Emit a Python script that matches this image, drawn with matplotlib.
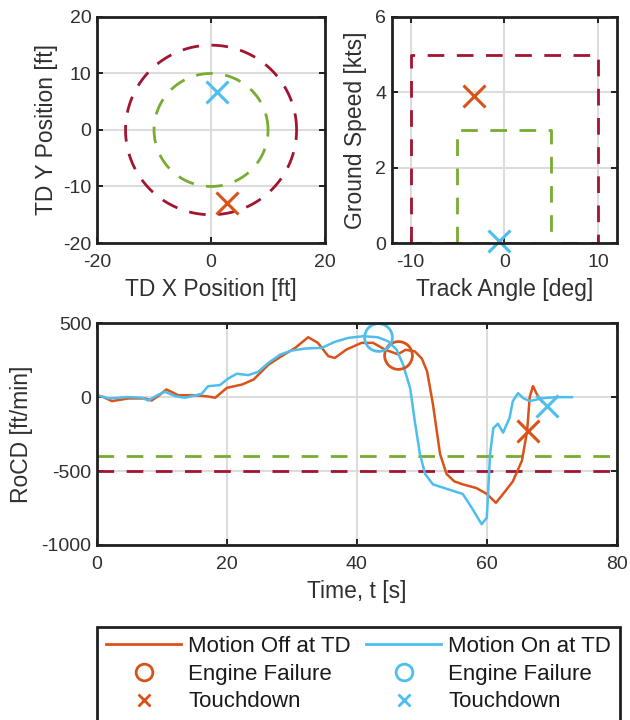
import numpy as np
import matplotlib
matplotlib.use("Agg")
from matplotlib import pyplot as plt
from matplotlib.lines import Line2D

plt.rcParams['font.family'] = ['Liberation Sans', 'DejaVu Sans']
plt.rcParams['font.size'] = 16.5
plt.rcParams['axes.unicode_minus'] = False

# colours (MATLAB defaults)
ORANGE = '#D95319'
BLUE = '#4DBEEE'
GREEN = '#77AC30'
DRED = '#A2142F'

# RoCD time histories
t_off = [0, 1, 2.3, 4.8, 7.4, 8.4, 9.5, 10.7, 12.5, 15, 17, 18.2, 20, 22.3, 24.1, 26.4,
         28.4, 30.5, 32.5, 34, 35.6, 36.6, 38.4, 40.7, 42.5, 44.3, 46.3, 47.5, 48.9, 50,
         50.8, 51.7, 52.8, 53.8, 55, 56.3, 58.4, 60, 61.4, 62.5, 64, 65.4, 66.2, 66.6,
         67.1, 67.7, 68.5]
rocd_off = [13, 0, -27, -9, -9, -23, 10, 52, 13, 13, 5, -4, 63, 85, 119, 220,
            277, 333, 405, 367, 277, 265, 322, 367, 367, 322, 290, 320, 310, 260,
            175, -47, -385, -520, -570, -590, -615, -655, -715, -655, -570, -430, -230, 0,
            75, 20, -30]

t_on = [0, 1.8, 4.8, 6.9, 7.9, 9.5, 10.5, 12, 13.5, 16.1, 17.1, 18.9, 20.2, 21.5, 23.3,
        24.8, 26.4, 28.2, 30, 32.1, 34.6, 36.6, 38.7, 41, 43.2, 44.8, 46.1, 47.1, 48.2,
        48.9, 49.7, 50.5, 51.7, 53.8, 56.3, 57.7, 59.2, 60, 60.5, 61, 61.7, 62.5, 63.5,
        64, 64.8, 65.6, 66.6, 68.6, 70.8, 73.1]
rocd_on = [13, -9, 0, -4, -23, 18, 36, 7, -4, 22, 74, 81, 126, 158, 149,
           171, 232, 288, 315, 329, 333, 374, 401, 412, 405, 378, 322, 221, 60,
           -160, -385, -520, -590, -620, -655, -750, -860, -815, -385, -210, -180, -240, -140,
           -27, 27, -7, -27, -7, 0, 0]

# events
ef_off = (46.3, 285)
ef_on = (43.2, 405)
td_off = (66.3, -230)
td_on = (69.2, -60)

# touchdown position [ft]
tdpos_off = (2.8, -13)
tdpos_on = (1.0, 6.8)

# touchdown track angle [deg], ground speed [kts]
tdgs_off = (-3.2, 3.9)
tdgs_on = (-0.6, 0.05)

# limits
pos_radius_des = 10
pos_radius_adq = 15
track_des, gs_des = 5, 3
track_adq, gs_adq = 10, 5
rocd_des = -400
rocd_adq = -500

DASH = (6, 4.5)
TXT = '#303030'


def style_axes(ax):
    ax.grid(True, color='#dcdcdc', linewidth=1.5)
    ax.set_axisbelow(True)
    for s in ax.spines.values():
        s.set_linewidth(2)
        s.set_color('#202020')
    ax.tick_params(direction='in', top=True, right=True, length=4, width=1.2,
                   labelsize=14, labelcolor=TXT)
    ax.tick_params(axis='x', pad=8)
    ax.tick_params(axis='y', pad=4)


fig = plt.figure(figsize=(6.3, 7.2), dpi=100)

ax1 = fig.add_axes([0.154, 0.6625, 0.362, 0.314])
ax2 = fig.add_axes([0.622, 0.6625, 0.357, 0.314])
ax3 = fig.add_axes([0.154, 0.2431, 0.825, 0.308])

# TD position
th = np.linspace(0, 2 * np.pi, 300)
ax1.plot(pos_radius_adq * np.cos(th), pos_radius_adq * np.sin(th), color=DRED, lw=2,
         dashes=DASH)
ax1.plot(pos_radius_des * np.cos(th), pos_radius_des * np.sin(th), color=GREEN, lw=2,
         dashes=DASH)
ax1.plot(*tdpos_off, 'x', color=ORANGE, ms=16, mew=2.2)
ax1.plot(*tdpos_on, 'x', color=BLUE, ms=16, mew=2.2)
ax1.set_xlim(-20, 20)
ax1.set_ylim(-20, 20)
ax1.set_xticks([-20, 0, 20])
ax1.set_yticks([-20, -10, 0, 10, 20])
ax1.set_xlabel('TD X Position [ft]', color=TXT, labelpad=5)
ax1.set_ylabel('TD Y Position [ft]', color=TXT, labelpad=4)
style_axes(ax1)

# track angle / ground speed
ax2.plot([-track_adq, -track_adq, track_adq, track_adq, -track_adq],
         [0, gs_adq, gs_adq, 0, 0], color=DRED, lw=2, dashes=DASH)
ax2.plot([-track_des, -track_des, track_des, track_des, -track_des],
         [0, gs_des, gs_des, 0, 0], color=GREEN, lw=2, dashes=DASH)
ax2.plot(*tdgs_off, 'x', color=ORANGE, ms=16, mew=2.2)
ax2.plot(*tdgs_on, 'x', color=BLUE, ms=16, mew=2.2, clip_on=False)
ax2.set_xlim(-12, 12)
ax2.set_ylim(0, 6)
ax2.set_xticks([-10, 0, 10])
ax2.set_yticks([0, 2, 4, 6])
ax2.set_xlabel('Track Angle [deg]', color=TXT, labelpad=5)
ax2.set_ylabel('Ground Speed [kts]', color=TXT, labelpad=6)
style_axes(ax2)

# RoCD
ax3.axhline(rocd_des, color=GREEN, lw=2, dashes=DASH)
ax3.axhline(rocd_adq, color=DRED, lw=2, dashes=DASH)
ax3.plot(t_off, rocd_off, color=ORANGE, lw=1.8)
ax3.plot(t_on, rocd_on, color=BLUE, lw=1.8)
ax3.plot(*ef_off, 'o', color=ORANGE, mfc='none', ms=20, mew=2)
ax3.plot(*ef_on, 'o', color=BLUE, mfc='none', ms=20, mew=2, clip_on=False)
ax3.plot(*td_off, 'x', color=ORANGE, ms=16, mew=2.2)
ax3.plot(*td_on, 'x', color=BLUE, ms=16, mew=2.2)
ax3.set_xlim(0, 80)
ax3.set_ylim(-1000, 500)
ax3.set_xticks([0, 20, 40, 60, 80])
ax3.set_yticks([-1000, -500, 0, 500])
ax3.set_xlabel('Time, t [s]', color=TXT, labelpad=5)
ax3.set_ylabel('RoCD [ft/min]', color=TXT, labelpad=6)
style_axes(ax3)

# legend (handles with smaller markers)
handles = [
    Line2D([], [], color=ORANGE, lw=2),
    Line2D([], [], ls='none', marker='o', color=ORANGE, mfc='none', ms=12, mew=2),
    Line2D([], [], ls='none', marker='x', color=ORANGE, ms=9, mew=2),
    Line2D([], [], color=BLUE, lw=2),
    Line2D([], [], ls='none', marker='o', color=BLUE, mfc='none', ms=12, mew=2),
    Line2D([], [], ls='none', marker='x', color=BLUE, ms=9, mew=2),
]
labels = ['Motion Off at TD', 'Engine Failure', 'Touchdown',
          'Motion On at TD', 'Engine Failure', 'Touchdown']
leg = fig.legend(handles, labels, ncol=2, loc='upper left',
                 bbox_to_anchor=(0.154, 0.0, 0.83, 0.129), mode='expand',
                 fancybox=False, framealpha=1, edgecolor='#202020',
                 handlelength=3.4, handletextpad=0.3, labelspacing=0.3,
                 borderpad=0.4, borderaxespad=0, columnspacing=0.3,
                 fontsize=16)
leg.get_frame().set_linewidth(2)
for t in leg.get_texts():
    t.set_color('#1a1a1a')

fig.savefig('out.png', dpi=100)
